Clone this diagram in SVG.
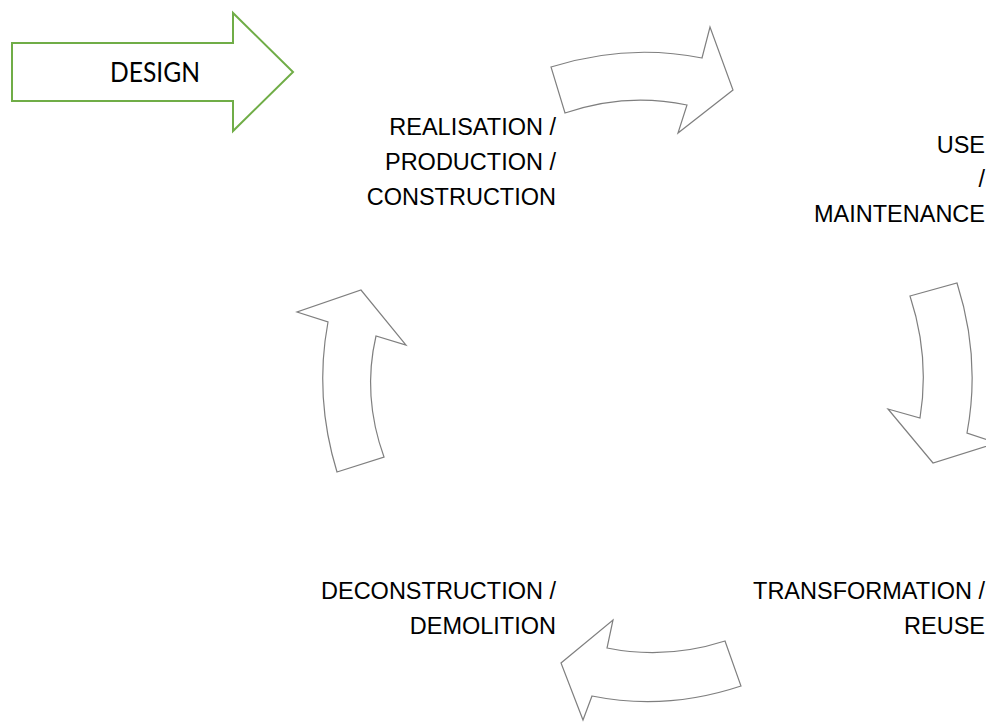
<svg xmlns="http://www.w3.org/2000/svg" width="986" height="724" viewBox="0 0 986 724">
<style>
.arr{fill:#ffffff;stroke:#7f7f7f;stroke-width:1.2;stroke-linejoin:miter}
.lbl{font-family:"Liberation Sans",Arial,sans-serif;font-size:23.5px;fill:#000000;text-anchor:end}
.design{fill:#ffffff;stroke:#70ad47;stroke-width:2}
.dtxt{font-family:Lato,"Open Sans",sans-serif;font-size:26px;fill:#000000}
</style>
<rect width="986" height="724" fill="#ffffff"/>
<g id="design">
<path class="design" d="M12,43 H233 V13 L293,72 L233,131 V101 H12 Z"/>
<text class="dtxt" x="110" y="82" textLength="90" lengthAdjust="spacingAndGlyphs">DESIGN</text>
</g>
<g id="connectors">
<path id="arrow-top" class="arr" d="M551,67 Q627,43 702,58 L710,27 L733,90 L678,133 L687,105 Q626,92 565,113 Z"/>
<path id="arrow-right" class="arr" d="M910,296 L957,283 Q981,358 967,433 L997,443 L933,463 L888,409 L920,418 Q930,357 910,296 Z"/>
<path id="arrow-bottom" class="arr" d="M725,641 L741,686 Q666,711 592,696 L583,720 L561,663 L613,620 L607,648 Q666,660 725,641 Z"/>
<path id="arrow-left" class="arr" d="M337,472 L384,457 Q362,396 376,336 L406,345 L361,290 L297,312 L328,322 Q314,397 337,472 Z"/>
</g>
<g id="realisation">
<text class="lbl" x="556" y="135">REALISATION /</text>
<text class="lbl" x="556" y="170">PRODUCTION /</text>
<text class="lbl" x="556" y="205">CONSTRUCTION</text>
</g>
<g id="use">
<text class="lbl" x="985" y="153">USE</text>
<text class="lbl" x="985" y="187">/</text>
<text class="lbl" x="985" y="222">MAINTENANCE</text>
</g>
<g id="transformation">
<text class="lbl" x="985" y="599">TRANSFORMATION /</text>
<text class="lbl" x="985" y="634">REUSE</text>
</g>
<g id="deconstruction">
<text class="lbl" x="556" y="599">DECONSTRUCTION /</text>
<text class="lbl" x="556" y="634">DEMOLITION</text>
</g>
</svg>
